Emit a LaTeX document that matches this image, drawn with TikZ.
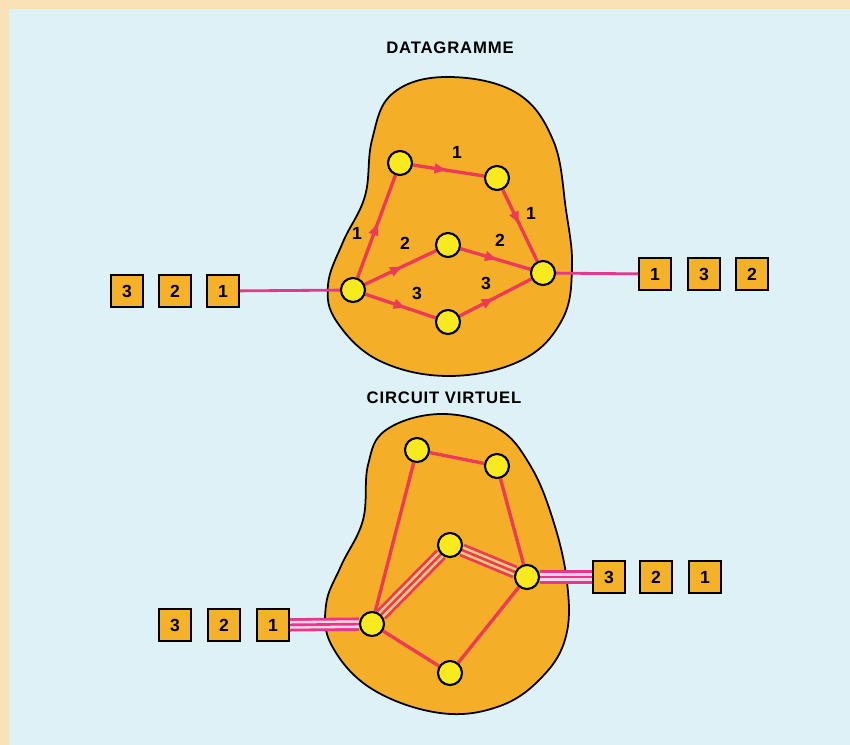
\documentclass[tikz,border=0pt]{standalone}
\usepackage{fontspec}
\setsansfont{Liberation Sans}
\usetikzlibrary{arrows.meta,decorations.markings}
\definecolor{paperCol}{RGB}{250,226,182}
\definecolor{skyCol}{RGB}{222,241,246}
\definecolor{blobCol}{RGB}{245,174,39}
\definecolor{hubCol}{RGB}{249,234,30}
\definecolor{linkCol}{RGB}{236,58,88}
\definecolor{lineCol}{RGB}{232,54,140}
\definecolor{boxCol}{RGB}{245,178,40}
\definecolor{gapIn}{RGB}{250,206,120}
\definecolor{gapOut}{RGB}{246,214,230}
\pgfdeclarelayer{back}
\pgfdeclarelayer{wires}
\pgfsetlayers{back,wires,main}
\tikzset{
  hub/.style={circle,draw,line width=1.2pt,fill=hubCol,minimum size=0.48cm,inner sep=0pt},
  pkt/.style={draw,line width=1.2pt,fill=boxCol,minimum size=0.64cm,inner sep=0pt,
              font=\sffamily\bfseries\fontsize{10}{12}\selectfont},
  blob/.style={draw,line width=1pt,fill=blobCol},
  ttl/.style={font=\sffamily\bfseries\fontsize{9.5}{11}\selectfont\addfontfeature{LetterSpace=5}},
  num/.style={font=\sffamily\bfseries\fontsize{10}{12}\selectfont},
  link/.style={draw=linkCol,line width=1.9pt},
  hop/.style={link,postaction={decorate},
              decoration={markings,mark=at position #1 with {\arrow[linkCol]{Latex[length=2.8mm,width=2.2mm]}}}},
  hop/.default=0.55,
  feed/.style={draw=lineCol,line width=1.6pt},
  trunk/.style={draw=linkCol,line width=1.5pt,
                preaction={draw=linkCol,line width=7.6pt},
                preaction={draw=gapIn,line width=4.4pt}},
  trunkout/.style={draw=lineCol,line width=1.5pt,
                   preaction={draw=lineCol,line width=7.6pt},
                   preaction={draw=gapOut,line width=4.4pt}},
}

\begin{document}
\begin{tikzpicture}[x=0.02cm,y=-0.02cm]
  \begin{pgfonlayer}{back}
    \fill[paperCol] (0,0) rectangle (850,745);
    \fill[skyCol] (9,9) rectangle (850,745);
    % the two networks
    \path[blob] plot[smooth cycle,tension=0.65] coordinates {(445,77) (515,92) (553,140)
      (566,210) (572,268) (562,320) (522,360) (450,376) (380,361) (337,322) (328,285)
      (343,242) (365,196) (372,140) (392,94)};
    \path[blob] plot[smooth cycle,tension=0.65] coordinates {(440,414) (497,428) (530,465)
      (553,520) (567,582) (566,636) (543,676) (500,706) (440,713) (372,689) (332,646)
      (326,605) (341,566) (363,520) (368,465) (386,430)};
  \end{pgfonlayer}

  % datagramme
  \node[ttl] (t1) at (450,48) {DATAGRAMME};
  \node[hub] (dA) at (353,290) {};
  \node[hub] (dB) at (400,163) {};
  \node[hub] (dC) at (497,178) {};
  \node[hub] (dD) at (448,245) {};
  \node[hub] (dE) at (543,273) {};
  \node[hub] (dF) at (448,322) {};
  \node[pkt] (p3) at (127,291) {3};
  \node[pkt] (p2) at (175,291) {2};
  \node[pkt] (p1) at (223,291) {1};
  \node[pkt] (q1) at (655,274) {1};
  \node[pkt] (q3) at (704,274) {3};
  \node[pkt] (q2) at (752,274) {2};
  \node[num] (a1) at (457,152) {1};
  \node[num] (a2) at (531,213) {1};
  \node[num] (a3) at (357,233) {1};
  \node[num] (b1) at (405,243) {2};
  \node[num] (b2) at (500,240) {2};
  \node[num] (c1) at (417,293) {3};
  \node[num] (c2) at (486,283) {3};
  \begin{pgfonlayer}{wires}
    \draw[feed] (p1) -- (dA);
    \draw[feed] (dE) -- (q1);
    \draw[hop] (dA) -- (dB);
    \draw[hop=0.5] (dB) -- (dC);
    \draw[hop=0.5] (dC) -- (dE);
    \draw[hop] (dA) -- (dD);
    \draw[hop] (dD) -- (dE);
    \draw[hop=0.6] (dA) -- (dF);
    \draw[hop=0.5] (dF) -- (dE);
  \end{pgfonlayer}

  % circuit virtuel
  \node[ttl] (t2) at (444,398) {CIRCUIT VIRTUEL};
  \node[hub] (vP) at (417,450) {};
  \node[hub] (vQ) at (497,466) {};
  \node[hub] (vR) at (450,545) {};
  \node[hub] (vS) at (527,577) {};
  \node[hub] (vT) at (372,624) {};
  \node[hub] (vU) at (450,673) {};
  \node[pkt] (r3) at (175,625) {3};
  \node[pkt] (r2) at (224,625) {2};
  \node[pkt] (r1) at (273,625) {1};
  \node[pkt] (s3) at (609,577) {3};
  \node[pkt] (s2) at (656,577) {2};
  \node[pkt] (s1) at (705,577) {1};
  \begin{pgfonlayer}{wires}
    \draw[link] (vP) -- (vQ);
    \draw[link] (vQ) -- (vS);
    \draw[link] (vP) -- (vT);
    \draw[link] (vT) -- (vU);
    \draw[link] (vU) -- (vS);
    \draw[trunk] (vT) -- (vR);
    \draw[trunk] (vR) -- (vS);
    \draw[trunkout] (r1) -- (vT);
    \draw[trunkout] (vS) -- (s3);
  \end{pgfonlayer}
\end{tikzpicture}
\end{document}
